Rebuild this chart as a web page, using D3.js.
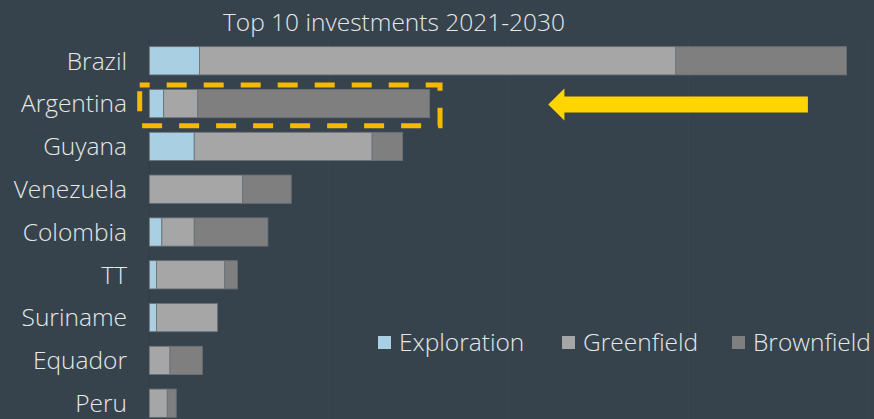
<!DOCTYPE html>
<html>
<head>
<meta charset="utf-8">
<script src="https://cdn.jsdelivr.net/npm/d3@7"></script>
<style>
  html, body { margin: 0; padding: 0; background: #36434c; }
  svg { display: block; }
  text { font-family: "Open Sans", "Lato", sans-serif; font-weight: 300; fill: #e6e8ea; }
</style>
</head>
<body>
<svg id="chart" width="874" height="419"></svg>
<script>
// Capex by country, 2021-2030, split by project type
const categories  = ["Brazil", "Argentina", "Guyana", "Venezuela", "Colombia", "TT", "Suriname", "Equador", "Peru"];
const exploration = [2.8, 0.8, 2.5, 0,   0.7, 0.4, 0.4, 0,    0];
const greenfield  = [26.5, 1.9, 9.9, 5.2, 1.8, 3.8, 3.4, 1.15, 1.0];
const brownfield  = [9.5, 12.9, 1.7, 2.7, 4.1, 0.7, 0,   1.8,  0.5];
const seriesNames = ["Exploration", "Greenfield", "Brownfield"];
const gridTicks   = [0, 10, 20, 30, 40];
const title       = "Top 10 investments 2021-2030";
const highlight   = "Argentina";

const colors = { Exploration: "#a9cfe2", Greenfield: "#a6a6a6", Brownfield: "#7f7f7f" };

const rows = categories.map((c, i) => ({
  country: c,
  Exploration: exploration[i],
  Greenfield: greenfield[i],
  Brownfield: brownfield[i]
}));

const svg = d3.select("#chart");

const x = d3.scaleLinear().domain([0, 40]).range([149.3, 868.1]);
const y = d3.scaleBand().domain(categories).range([39.4, 424.6])
  .paddingInner(0.34).paddingOuter(0.17);

// faint vertical gridlines
svg.append("g").selectAll("line").data(gridTicks).join("line")
  .attr("x1", d => x(d)).attr("x2", d => x(d))
  .attr("y1", 38).attr("y2", 419)
  .attr("stroke", d => d === 0 ? "#323e46" : "#3a4750")
  .attr("stroke-width", 1);

// title
svg.append("text")
  .attr("x", 394).attr("y", 30.5)
  .attr("text-anchor", "middle")
  .style("font-size", "24.5px")
  .text(title);

// stacked bars
const stack = d3.stack().keys(seriesNames)(rows);
svg.append("g").selectAll("g").data(stack).join("g")
  .attr("fill", d => colors[d.key])
  .selectAll("rect").data(d => d.filter(p => p[1] - p[0] > 0)).join("rect")
  .attr("x", d => x(d[0]))
  .attr("y", d => y(d.data.country))
  .attr("width", d => x(d[1]) - x(d[0]))
  .attr("height", y.bandwidth())
  .attr("stroke", "#6b7176")
  .attr("stroke-width", 0.8);

// category labels
svg.append("g").selectAll("text").data(categories).join("text")
  .attr("x", 127)
  .attr("y", d => y(d) + y.bandwidth() / 2)
  .attr("dy", "0.36em")
  .attr("text-anchor", "end")
  .style("font-size", "24.5px")
  .text(d => d);

// highlight box around one country
const hi = rows.find(r => r.country === highlight);
const hiEnd = hi.Exploration + hi.Greenfield + hi.Brownfield;
svg.append("rect")
  .attr("x", x(0) - 9.6)
  .attr("y", y(highlight) - 4.5)
  .attr("width", x(hiEnd) - x(0) + 20)
  .attr("height", y.bandwidth() + 12.5)
  .attr("fill", "none")
  .attr("stroke", "#f6b900")
  .attr("stroke-width", 5)
  .attr("stroke-dasharray", "20 17")
  .attr("stroke-dashoffset", 10);

// arrow pointing at the highlighted bar
const ay = y(highlight) + y.bandwidth() / 2 + 1;
const tipX = x(22.2), headX = x(23.1), tailX = x(36.65);
const arrow = d3.path();
arrow.moveTo(tipX, ay);
arrow.lineTo(headX, ay - 16);
arrow.lineTo(headX, ay - 8);
arrow.lineTo(tailX, ay - 8);
arrow.lineTo(tailX, ay + 8);
arrow.lineTo(headX, ay + 8);
arrow.lineTo(headX, ay + 16);
arrow.closePath();
svg.append("path").attr("d", arrow.toString()).attr("fill", "#ffd500");

// legend
const legendX = [378, 562, 732];
const lg = svg.append("g").selectAll("g").data(seriesNames).join("g")
  .attr("transform", (d, i) => `translate(${legendX[i]},336)`);
lg.append("rect").attr("width", 13).attr("height", 13)
  .attr("fill", d => colors[d]);
lg.append("text").attr("x", 21).attr("y", 15)
  .style("font-size", "24.5px")
  .text(d => d);
</script>
</body>
</html>
